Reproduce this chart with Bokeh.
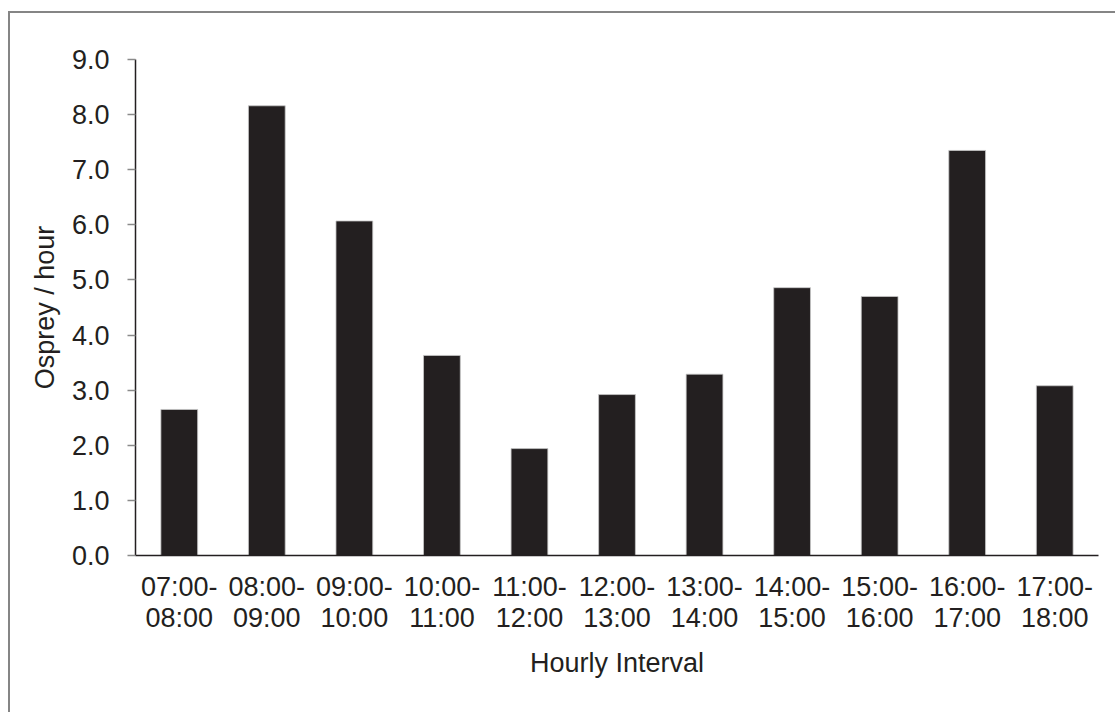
from bokeh.plotting import figure
from bokeh.models import ColumnDataSource, FixedTicker, Range1d
from bokeh.embed import file_html
from bokeh.resources import INLINE

intervals = ["07:00-\n08:00", "08:00-\n09:00", "09:00-\n10:00", "10:00-\n11:00",
             "11:00-\n12:00", "12:00-\n13:00", "13:00-\n14:00", "14:00-\n15:00",
             "15:00-\n16:00", "16:00-\n17:00", "17:00-\n18:00"]
osprey_per_hour = [2.65, 8.16, 6.07, 3.63, 1.94, 2.92, 3.29, 4.86, 4.70, 7.35, 3.08]
y_ticks = [0, 1, 2, 3, 4, 5, 6, 7, 8, 9]
y_tick_labels = {t: f"{t:.1f}" for t in y_ticks}

TEXT = "#231f20"
FONT = "Liberation Sans"
FS = "27px"

src = ColumnDataSource(dict(x=intervals, y=osprey_per_hour))

p = figure(x_range=intervals, y_range=Range1d(0, 9), width=1107, height=701,
           output_backend="svg", toolbar_location=None,
           min_border_left=125, min_border_right=19, min_border_top=46, min_border_bottom=159)
p.margin = (11, 0, 0, 8)
p.styles = {"border-top": "2px solid #858585", "border-left": "2px solid #858585"}

p.vbar(x="x", top="y", width=0.42, source=src, fill_color=TEXT,
       line_color="#c8c8c8", line_width=0.8)

p.outline_line_color = None
p.grid.grid_line_color = None
p.background_fill_color = "white"
p.border_fill_color = "white"

ya = p.yaxis[0]
ya.ticker = FixedTicker(ticks=y_ticks)
ya.major_label_overrides = y_tick_labels
ya.minor_tick_line_color = None
ya.major_tick_out = 8
ya.major_tick_in = 0
ya.major_tick_line_color = "#8a8a8a"
ya.major_tick_line_width = 1.5
ya.axis_line_color = TEXT
ya.axis_line_width = 1.5
ya.major_label_text_font = FONT
ya.major_label_text_font_size = FS
ya.major_label_text_color = TEXT
ya.major_label_standoff = 18
ya.axis_label = "Osprey / hour"
ya.axis_label_text_font = FONT
ya.axis_label_text_font_size = FS
ya.axis_label_text_font_style = "normal"
ya.axis_label_text_color = TEXT
ya.axis_label_standoff = 9

xa = p.xaxis[0]
xa.major_tick_line_color = None
xa.minor_tick_line_color = None
xa.axis_line_color = TEXT
xa.axis_line_width = 1.5
xa.major_label_text_font = FONT
xa.major_label_text_font_size = FS
xa.major_label_text_color = TEXT
xa.major_label_standoff = 10
xa.major_label_text_line_height = 1.05
xa.axis_label = "Hourly Interval"
xa.axis_label_text_font = FONT
xa.axis_label_text_font_size = FS
xa.axis_label_text_font_style = "normal"
xa.axis_label_text_color = TEXT
xa.axis_label_standoff = 12

open("out.html", "w").write(file_html(p, INLINE))
